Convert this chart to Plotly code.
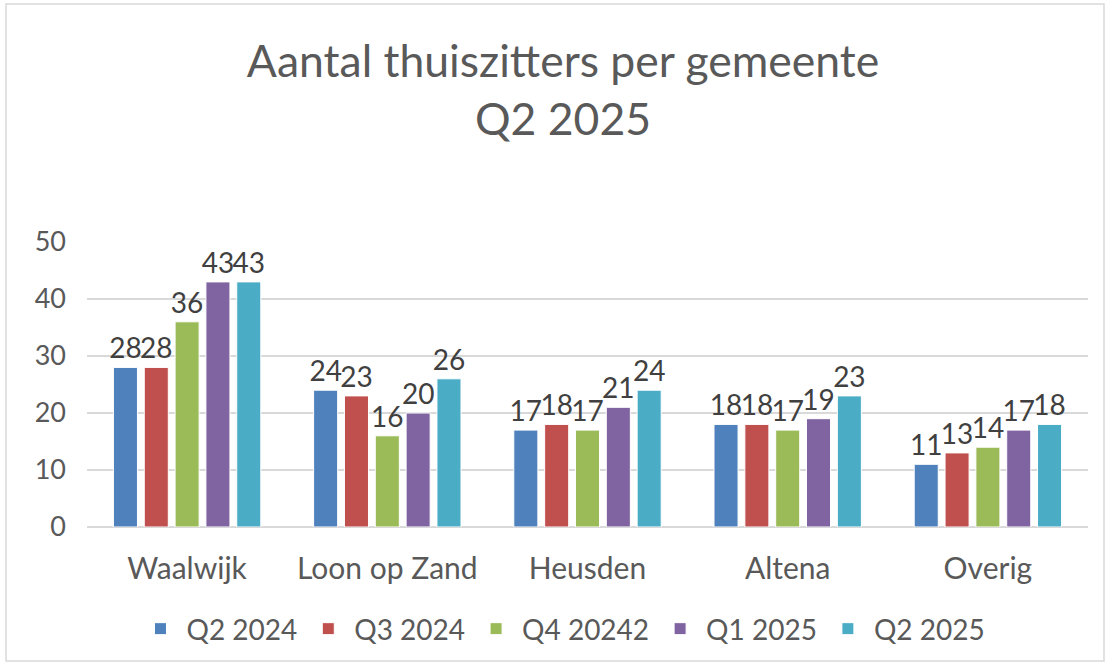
import plotly.graph_objects as go

categories = ["Waalwijk", "Loon op Zand", "Heusden", "Altena", "Overig"]
series_names = ["Q2 2024", "Q3 2024", "Q4 20242", "Q1 2025", "Q2 2025"]
q2_2024 = [28, 24, 17, 18, 11]
q3_2024 = [28, 23, 18, 18, 13]
q4_2024 = [36, 16, 17, 17, 14]
q1_2025 = [43, 20, 21, 19, 17]
q2_2025 = [43, 26, 24, 23, 18]
series_values = [q2_2024, q3_2024, q4_2024, q1_2025, q2_2025]
colors = ["#4F81BD", "#C0504D", "#9BBB59", "#8064A2", "#4BACC6"]
y_ticks = [0, 10, 20, 30, 40, 50]

FONT = "Lato, 'Liberation Sans', sans-serif"

fig = go.Figure()
for name, vals, col in zip(series_names, series_values, colors):
    fig.add_trace(go.Bar(
        x=categories, y=vals, name=name,
        marker=dict(color=col, line=dict(color="white", width=1)),
        text=[str(v) for v in vals], textposition="outside",
        textfont=dict(size=28, color="#404040", family=FONT),
        cliponaxis=False, constraintext="none",
    ))

fig.update_layout(
    width=1109, height=665,
    paper_bgcolor="white", plot_bgcolor="white",
    font=dict(family=FONT, color="#595959"),
    title=dict(text="Aantal thuiszitters per gemeente<br>Q2 2025",
               x=563 / 1109, xanchor="center", y=1 - 77 / 665, yanchor="top",
               font=dict(size=44.5, color="#595959", family=FONT)),
    margin=dict(l=87, r=21, t=242, b=138, autoexpand=False),
    barmode="group", bargap=0.23, bargroupgap=0.22,
    showlegend=True,
    legend=dict(orientation="h", x=0.475, xanchor="center", y=-0.27, yanchor="top",
                font=dict(size=28, color="#595959", family=FONT),
                itemwidth=42, traceorder="normal"),
    xaxis=dict(showline=False, ticks="", ticklabelstandoff=21,
               tickfont=dict(size=30, color="#595959")),
    yaxis=dict(range=[0, 50], tickvals=y_ticks, showgrid=True, gridcolor="#D9D9D9",
               gridwidth=1.5, zeroline=True, zerolinecolor="#D9D9D9", zerolinewidth=1.5,
               tickfont=dict(size=27, color="#595959"), ticks="", ticklabelstandoff=20),
)
fig.add_shape(type="rect", xref="paper", yref="paper",
              x0=(6 - 87) / 1001, x1=(1104 - 87) / 1001,
              y0=(527 - 661) / 285, y1=(527 - 4) / 285,
              line=dict(color="#D9D9D9", width=1.5), fillcolor="rgba(0,0,0,0)", layer="below")

fig.write_html("out.html", config={"displayModeBar": False},
               post_script="document.body.style.margin='0';document.body.style.overflow='hidden';")
